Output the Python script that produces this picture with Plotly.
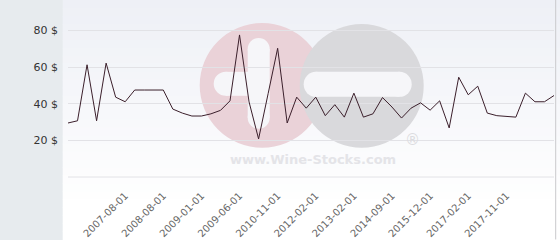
import plotly.graph_objects as go

# ---- data ----
prices = [29.5, 30.7, 61.3, 30.7, 62.2, 43.6, 41.1, 47.5, 47.5, 47.5,
          47.5, 37.1, 34.9, 33.3, 33.3, 34.5, 36.4, 41.6, 77.6, 41.0,
          20.8, 45.5, 70.3, 29.5, 43.6, 37.6, 43.6, 33.5, 39.5, 32.7,
          45.8, 32.7, 34.5, 43.4, 38.2, 32.2, 37.6, 40.5, 36.5, 41.6,
          26.8, 54.5, 44.9, 49.6, 34.9, 33.5, 33.3, 32.7, 45.8, 41.1,
          41.1, 44.5]
tick_labels = ["2007-08-01", "2008-08-01", "2009-01-01", "2009-06-01",
               "2010-11-01", "2012-02-01", "2013-02-01", "2014-09-01",
               "2015-12-01", "2017-02-01", "2017-11-01"]
tick_index = [6, 10, 14, 18, 22, 26, 30, 34, 38, 42, 46]
y_ticks = [20, 40, 60, 80]

W, H = 560, 240
L, R = 68.3, 554.3
T, B = 0.0, 177.4
pw, ph = R - L, B - T

def px(x):
    return (x - L) / pw

def py(y):
    return (B - y) / ph

fig = go.Figure()
fig.add_trace(go.Scatter(x=list(range(len(prices))), y=prices, mode="lines",
                         line=dict(color="#3b1f2b", width=1), hoverinfo="skip"))

shapes = []
# gradient background strips
n = 30
top_c = (238, 240, 246)
bot_c = (255, 255, 255)
for k in range(n):
    y0 = H * k / n
    y1 = H * (k + 1) / n
    t = min(1.0, k / (n * 0.85))
    c = tuple(int(round(top_c[j] + (bot_c[j] - top_c[j]) * t)) for j in range(3))
    shapes.append(dict(type="rect", xref="paper", yref="paper",
                       x0=px(63), x1=px(W + 2), y0=py(y1 + 0.5), y1=py(y0),
                       fillcolor="rgb(%d,%d,%d)" % c, line=dict(width=0), layer="below"))
# watermark circles
shapes.append(dict(type="circle", xref="paper", yref="paper",
                   x0=px(200), x1=px(325), y0=py(148), y1=py(23),
                   fillcolor="#ead2d8", line=dict(width=0), layer="below"))
shapes.append(dict(type="circle", xref="paper", yref="paper",
                   x0=px(300), x1=px(424), y0=py(148), y1=py(24),
                   fillcolor="#d9d9dc", line=dict(width=0), layer="below"))
# white pills
for (x0, x1, y0, y1) in [(214, 262, 72, 96), (304, 412, 72, 97)]:
    shapes.append(dict(type="rect", xref="paper", yref="paper",
                       x0=px(x0 + 12), x1=px(x1 - 12), y0=py(y1), y1=py(y0),
                       fillcolor="#f6f6f9", line=dict(width=0), layer="below"))
    for cx in (x0 + 12, x1 - 12):
        shapes.append(dict(type="circle", xref="paper", yref="paper",
                           x0=px(cx - 12), x1=px(cx + 12), y0=py(y1), y1=py(y0),
                           fillcolor="#f6f6f9", line=dict(width=0), layer="below"))
# vertical pill in pink circle
shapes.append(dict(type="rect", xref="paper", yref="paper",
                   x0=px(248), x1=px(270), y0=py(118), y1=py(49),
                   fillcolor="#f6f6f9", line=dict(width=0), layer="below"))
for cy in (49, 118):
    shapes.append(dict(type="circle", xref="paper", yref="paper",
                       x0=px(248), x1=px(270), y0=py(cy + 11), y1=py(cy - 11),
                       fillcolor="#f6f6f9", line=dict(width=0), layer="below"))
# baseline grid line at 0 and right border
shapes.append(dict(type="line", xref="paper", yref="paper", x0=0, x1=1, y0=0, y1=0,
                   line=dict(color="#e2e2e6", width=1), layer="below"))
shapes.append(dict(type="line", xref="paper", yref="paper", x0=px(556), x1=px(556),
                   y0=py(H), y1=py(0), line=dict(color="#c9c9cc", width=1), layer="above"))

annotations = [
    dict(text="<b>www.Wine-Stocks.com</b>", xref="paper", yref="paper",
         x=px(313), y=py(160), showarrow=False, xanchor="center", yanchor="middle",
         font=dict(family="DejaVu Sans", size=13, color="#e4e4e8")),
    dict(text="®", xref="paper", yref="paper", x=px(413), y=py(140), showarrow=False,
         xanchor="center", yanchor="middle",
         font=dict(family="DejaVu Sans", size=15, color="#dcdce0")),
]

fig.update_layout(
    width=W, height=H,
    margin=dict(l=L, r=W - R, t=T, b=H - B, pad=0),
    paper_bgcolor="#e7ebee",
    plot_bgcolor="rgba(0,0,0,0)",
    showlegend=False,
    shapes=shapes,
    annotations=annotations,
    xaxis=dict(range=[0, len(prices) - 1], tickmode="array", tickvals=tick_index,
               ticktext=tick_labels, tickangle=-45, showgrid=False, zeroline=False,
               showline=False, ticks="", ticklabelstandoff=10,
               tickfont=dict(family="DejaVu Sans", size=10, color="#666666"),
               fixedrange=True),
    yaxis=dict(range=[0, B / 1.835], tickmode="array", tickvals=y_ticks,
               ticktext=["%d $" % v for v in y_ticks], showgrid=True,
               gridcolor="#e2e2e6", gridwidth=1, zeroline=False, showline=False, ticks="",
               ticklabelstandoff=9,
               tickfont=dict(family="DejaVu Sans", size=11, color="#333333"), fixedrange=True),
)

fig.write_html("out.html", config={"displayModeBar": False})
